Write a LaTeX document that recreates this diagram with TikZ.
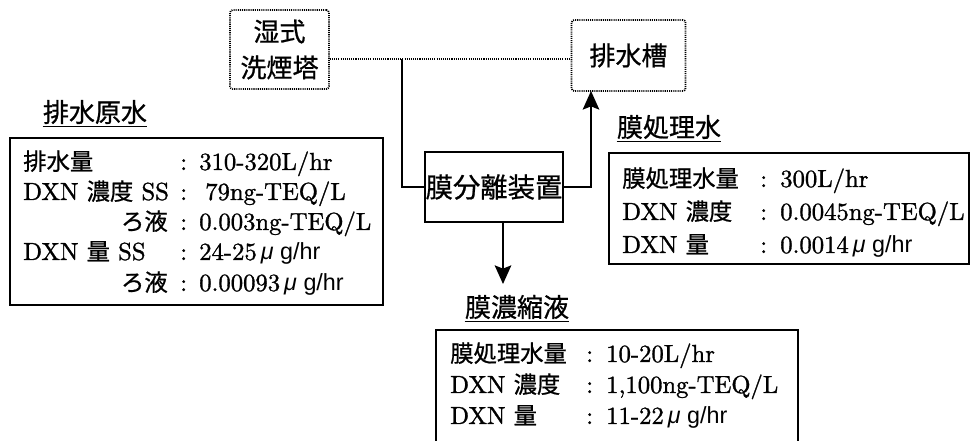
\documentclass[tikz,border=0pt]{standalone}
\usepackage{fontspec}
\setmainfont{lmroman10-regular.otf}[FakeBold=1.2]
\newfontfamily\jp{Noto Sans CJK JP}[FakeBold=0.8]
\newfontfamily\sansf{Liberation Sans}
\usetikzlibrary{arrows.meta}
\newcommand{\J}[1]{{\jp\fontsize{17.5}{20}\selectfont #1}}
\newcommand{\ug}{{\sansf\fontsize{17.5}{20}\selectfont{\itshape μ} g/hr}}
\begin{document}
\begin{tikzpicture}[x=0.75pt,y=-0.75pt,
  dotbox/.style={draw, line width=1.3pt, dash pattern=on 0.8pt off 0.8pt, rounded corners=2pt, inner sep=0pt, align=center, font=\jp\fontsize{19.5}{27}\selectfont},
  membox/.style={draw, line width=1.1pt, inner sep=0pt, font=\jp\fontsize{20.5}{24}\selectfont},
  databox/.style={draw, line width=1.2pt, inner sep=0pt, anchor=north west},
  head/.style={inner sep=0pt, font=\jp\fontsize{19.5}{22}\selectfont},
  cell/.style={inner sep=0pt, anchor=base west, font=\fontsize{18.5}{20}\selectfont},
  cellr/.style={inner sep=0pt, anchor=base east, font=\fontsize{18.5}{20}\selectfont},
  conn/.style={line width=1.1pt},
  dotline/.style={line width=1.1pt, dash pattern=on 0.8pt off 0.8pt},
  arr/.style={-{Stealth[length=14pt,width=12.5pt,inset=2.5pt]}}
]
\useasboundingbox (0,0) rectangle (972,441);

% main boxes
\node[dotbox, minimum width=74.25pt, minimum height=59.25pt] (wet) at (279.5,49.5) {湿式\\洗煙塔};
\node[dotbox, minimum width=85.5pt, minimum height=53.25pt] (tank) at (628.5,55.5) {排水槽};
\node[membox, minimum width=103.5pt, minimum height=52.5pt] (mem) at (494,187) {膜分離装置};

% connectors
\coordinate (j) at (402,59);
\coordinate (tankin) at (591,91);
\coordinate (down) at (503,284);
\draw[dotline] (wet.east |- j) -- (tank.west |- j);
\draw[conn] (j) |- (mem.west);
\draw[conn,arr] (mem.east) -| (tankin);
\draw[conn,arr] (down |- mem.south) -- (down);

% headings
\node[head] (h1) at (95,112) {排水原水};
\node[head] (h2) at (669,127) {膜処理水};
\node[head] (h3) at (517,307) {膜濃縮液};
\foreach \h in {h1,h2,h3}
  \draw[line width=0.8pt] ([yshift=-2pt]\h.south west) -- ([yshift=-2pt]\h.south east);

% left data box
\node[databox, minimum width=279.75pt, minimum height=125.25pt] (lbox) at (9,137) {};
\node[cell] (l1a) at (23,170) {\J{排水量}};
\node[cell] (l1b) at (180,170) {:};
\node[cell] (l1c) at (199,170) {310-320L/hr};
\node[cell] (l2a) at (23,200) {DXN \J{濃度} SS};
\node[cell] (l2b) at (180,200) {:};
\node[cell] (l2c) at (205,200) {79ng-TEQ/L};
\node[cellr] (l3a) at (168,230) {\J{ろ液}};
\node[cell] (l3b) at (180,230) {:};
\node[cell] (l3c) at (199,230) {0.003ng-TEQ/L};
\node[cell] (l4a) at (23,260) {DXN \J{量} SS};
\node[cell] (l4b) at (180,260) {:};
\node[cell] (l4c) at (199,260) {24-25\,\ug};
\node[cellr] (l5a) at (168,291) {\J{ろ液}};
\node[cell] (l5b) at (180,291) {:};
\node[cell] (l5c) at (199,291) {0.00093\,\ug};

% right data box
\node[databox, minimum width=270pt, minimum height=83.25pt] (rbox) at (608,152) {};
\node[cell] (r1a) at (622,187) {\J{膜処理水量}};
\node[cell] (r1b) at (760,187) {:};
\node[cell] (r1c) at (780,187) {300L/hr};
\node[cell] (r2a) at (622,220) {DXN \J{濃度}};
\node[cell] (r2b) at (760,220) {:};
\node[cell] (r2c) at (780,220) {0.0045ng-TEQ/L};
\node[cell] (r3a) at (622,253) {DXN \J{量}};
\node[cell] (r3b) at (760,253) {:};
\node[cell] (r3c) at (780,253) {0.0014\,\ug};

% bottom data box (open at the bottom edge)
\coordinate (bl) at (436,441);
\coordinate (br) at (798,441);
\draw[line width=1.2pt] (bl) |- (798,330) coordinate (btr) -- (br);
\node[cell] (b1a) at (450,362) {\J{膜処理水量}};
\node[cell] (b1b) at (586,362) {:};
\node[cell] (b1c) at (606,362) {10-20L/hr};
\node[cell] (b2a) at (450,393) {DXN \J{濃度}};
\node[cell] (b2b) at (586,393) {:};
\node[cell] (b2c) at (606,393) {1,100ng-TEQ/L};
\node[cell] (b3a) at (450,424) {DXN \J{量}};
\node[cell] (b3b) at (586,424) {:};
\node[cell] (b3c) at (606,424) {11-22\,\ug};
\end{tikzpicture}
\end{document}
